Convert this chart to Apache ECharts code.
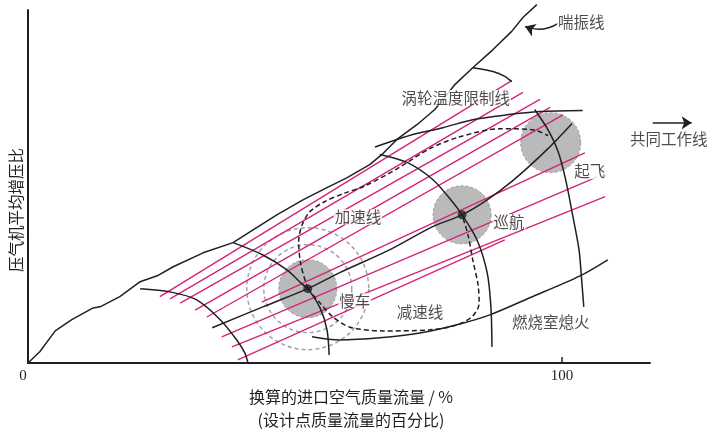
<!DOCTYPE html>
<html>
<head>
<meta charset="utf-8">
<script src="https://cdn.jsdelivr.net/npm/echarts@6/dist/echarts.min.js"></script>
<style>
  html, body { margin: 0; padding: 0; background: #fff; }
  #chart { width: 716px; height: 437px; }
</style>
</head>
<body>
<div id="chart"></div>
<script>
// x: corrected inlet air mass flow (% of design point), y: compressor pressure ratio (unscaled)
const surgeLine = [[0,0],[2.2,2.1],[5.1,6.0],[8.2,8.1],[12.2,10.3],[13.5,10.5],[17.2,12.4],[21.0,15.2],[24.2,16.3],[27.2,18.0],[32.8,20.6],[38.4,22.5],[41.2,24.3],[46.6,27.7],[51.5,30.5],[56.0,32.8],[59.7,34.6],[64.0,37.1],[66.3,39.0],[69.1,41.8],[72.9,44.6],[76.2,47.4],[80.0,52.1],[83.3,55.2],[87.1,58.6],[90.6,62.0],[92.7,64.6],[95.3,67.0]]
const turbineLimitShort = [[83.3,55.2],[87.1,54.5],[89.3,53.6],[90.6,52.6]]
const turbineLimitLong = [[65.0,40.4],[69.1,41.8],[72.8,42.9],[77.7,44.0],[83.3,45.5],[89.7,46.4],[95.9,47.0],[103.9,47.2]]

// constant corrected speed lines
const speedLine1 = [[21.0,13.9],[26.6,13.3],[31.6,11.8],[36.0,8.1],[39.1,4.3],[40.6,1.9],[41.2,0]]
const speedLine2 = [[38.4,22.5],[44.0,20.2],[48.5,17.4],[51.5,14.6],[52.4,13.9],[54.7,10.3],[56.0,6.2],[56.4,1.5]]
const speedLine3 = [[65.9,39.0],[71.0,37.5],[75.8,34.3],[79.6,30.0],[81.3,27.7],[84.1,23.0],[86.0,16.9],[86.7,10.5],[86.9,3.0]]
const speedLine4 = [[94.9,47.4],[97.4,43.6],[99.3,39.5],[100.7,34.3],[102.0,27.7],[103.2,21.2],[103.7,15.5],[104.1,10.5]]

const flameoutLine = [[53.2,4.9],[58.4,4.3],[65.9,4.7],[73.4,5.6],[80.9,7.3],[86.5,9.0],[94.0,12.2],[103.4,16.3],[108.6,19.3]]
const workingLine = [[34.5,6.6],[44.0,10.5],[52.4,13.9],[58.4,16.9],[67.8,21.2],[75.8,25.5],[81.3,27.7],[86.0,30.5],[90.8,34.1],[97.2,39.9],[101.9,44.8]]
const accelLine = [[52.4,13.9],[51.1,18.4],[50.7,22.7],[51.3,25.7],[52.8,28.3],[55.6,30.2],[59.4,31.8],[63.1,33.1],[69.1,36.3],[75.3,40.1],[80.9,42.3],[88.4,43.8],[94.6,43.6],[97.4,42.5]]
const decelLine = [[52.4,13.9],[54.7,11.2],[57.1,8.6],[60.3,6.7],[66.5,6.0],[75.3,6.2],[80.3,7.1],[83.3,8.8],[84.5,11.2],[84.3,14.6],[83.3,19.3],[82.4,24.0],[81.3,27.7]]

// magenta iso-lines, [start, end]
const magentaLines = [
  [[24.7,12.4],[90.6,52.8]],
  [[26.6,12.0],[92.7,50.6]],
  [[28.5,11.2],[95.9,49.3]],
  [[31.3,9.9],[97.8,47.8]],
  [[33.5,8.6],[100.2,46.4]],
  [[43.8,11.4],[104.3,39.3]],
  [[36.3,4.9],[106.6,34.8]],
  [[38.2,3.0],[108.1,31.1]],
  [[39.3,0.6],[89.3,23.0]]
]

const idlePoint = [52.4,13.9]
const cruisePoint = [81.3,27.7]
const takeoffPoint = [97.9,41.2]

const annotations = [
  ['喘振线', 103.6, 63.7],
  ['涡轮温度限制线', 80.1, 49.6],
  ['共同工作线', 120.0, 41.8],
  ['起飞', 105.2, 35.8],
  ['加速线', 61.8, 27.3],
  ['巡航', 90.1, 26.4],
  ['慢车', 61.2, 11.6],
  ['减速线', 73.4, 9.6],
  ['燃烧室熄火', 97.9, 7.7]
]
const surgeArrow = [[99.3,63.5],[93.1,62.9]]
const workingArrow = [[117.0,44.9],[124.3,44.9]]
const xTicks = [0, 100]

const black = '#231f20'
const magenta = '#d4237a'
const cjk = '"Noto Sans CJK SC", sans-serif'

const chart = echarts.init(document.getElementById('chart'))

const curve = (data, opts = {}) => ({
  type: 'line',
  data,
  symbol: 'none',
  smooth: opts.smooth ?? 0.3,
  clip: false,
  silent: true,
  z: opts.z ?? 5,
  lineStyle: {
    color: opts.color ?? black,
    width: opts.width ?? 1.5,
    type: opts.dashed ? [5, 3] : 'solid'
  }
})

const ring = (size, style) => ({
  type: 'scatter',
  data: [idlePoint],
  symbolSize: size,
  silent: true,
  z: 1,
  itemStyle: style
})

const option = {
  animation: false,
  grid: { left: 28, right: 66, top: 10, bottom: 74 },
  xAxis: {
    type: 'value',
    min: 0,
    max: 116.5,
    interval: 100,
    splitLine: { show: false },
    axisLine: { lineStyle: { color: black, width: 2 } },
    axisTick: { inside: true, length: 6, customValues: [100], lineStyle: { color: black, width: 1.5 } },
    axisLabel: {
      customValues: xTicks,
      color: black,
      fontFamily: '"Liberation Serif", serif',
      fontSize: 15,
      margin: 6,
      formatter: v => v === 0 ? '{o|0}' : String(v),
      rich: { o: { padding: [0, 10, 0, 0], fontFamily: '"Liberation Serif", serif', fontSize: 15, color: black } }
    }
  },
  yAxis: {
    type: 'value',
    min: 0,
    max: 66,
    splitLine: { show: false },
    axisLine: { show: true, lineStyle: { color: black, width: 2 } },
    axisTick: { show: false },
    axisLabel: { show: false }
  },
  graphic: [
    { type: 'text', x: 351, y: 397, style: { text: '换算的进口空气质量流量 / %', font: '16px ' + cjk, fill: black, align: 'center', verticalAlign: 'middle' } },
    { type: 'text', x: 351, y: 420, style: { text: '(设计点质量流量的百分比)', font: '16px ' + cjk, fill: black, align: 'center', verticalAlign: 'middle' } },
    { type: 'text', x: 16, y: 210, rotation: Math.PI / 2, style: { text: '压气机平均增压比', font: '15.5px ' + cjk, fill: black, align: 'center', verticalAlign: 'middle' } }
  ],
  series: [
    ring(122, { color: 'transparent', borderColor: '#8c8c8c', borderWidth: 1.5, borderType: [4, 3] }),
    ring(88, { color: 'transparent', borderColor: '#8c8c8c', borderWidth: 1.5, borderType: [4, 3] }),
    {
      type: 'scatter',
      data: [idlePoint, cruisePoint],
      symbolSize: 58,
      silent: true,
      z: 2,
      itemStyle: { color: '#a9a9a9', borderColor: '#8a8a8a', borderWidth: 1, borderType: [3, 2] }
    },
    {
      type: 'scatter',
      data: [takeoffPoint],
      symbolSize: 60,
      silent: true,
      z: 2,
      itemStyle: { color: '#a9a9a9', borderColor: '#8a8a8a', borderWidth: 1, borderType: [3, 2] }
    },
    ...magentaLines.map(seg => curve(seg, { color: magenta, smooth: false, z: 3, width: 1.4 })),
    curve(surgeLine, { smooth: false }),
    curve(turbineLimitShort),
    curve(turbineLimitLong),
    curve(speedLine1),
    curve(speedLine2),
    curve(speedLine3),
    curve(speedLine4),
    curve(flameoutLine),
    curve(workingLine),
    curve(accelLine, { dashed: true }),
    curve(decelLine, { dashed: true }),
    {
      type: 'scatter',
      data: [idlePoint, cruisePoint],
      symbolSize: 9,
      silent: true,
      z: 8,
      itemStyle: { color: black }
    },
    {
      type: 'lines',
      coordinateSystem: 'cartesian2d',
      clip: false,
      silent: true,
      z: 9,
      symbol: ['none', 'arrow'],
      symbolSize: [0, 10],
      data: [
        { coords: surgeArrow, lineStyle: { curveness: 0.25 } },
        { coords: workingArrow }
      ],
      lineStyle: { color: black, width: 1.5, opacity: 1 }
    },
    {
      type: 'scatter',
      data: annotations.map(a => [a[1], a[2], a[0]]),
      symbolSize: 1,
      clip: false,
      silent: true,
      z: 10,
      itemStyle: { color: 'transparent' },
      label: {
        show: true,
        position: 'inside',
        formatter: p => p.data[2],
        color: black,
        fontFamily: cjk,
        fontSize: 15.5,
        backgroundColor: '#fff',
        padding: [0, 1]
      }
    }
  ]
}

chart.setOption(option)
window.addEventListener('resize', () => chart.resize())
</script>
</body>
</html>
